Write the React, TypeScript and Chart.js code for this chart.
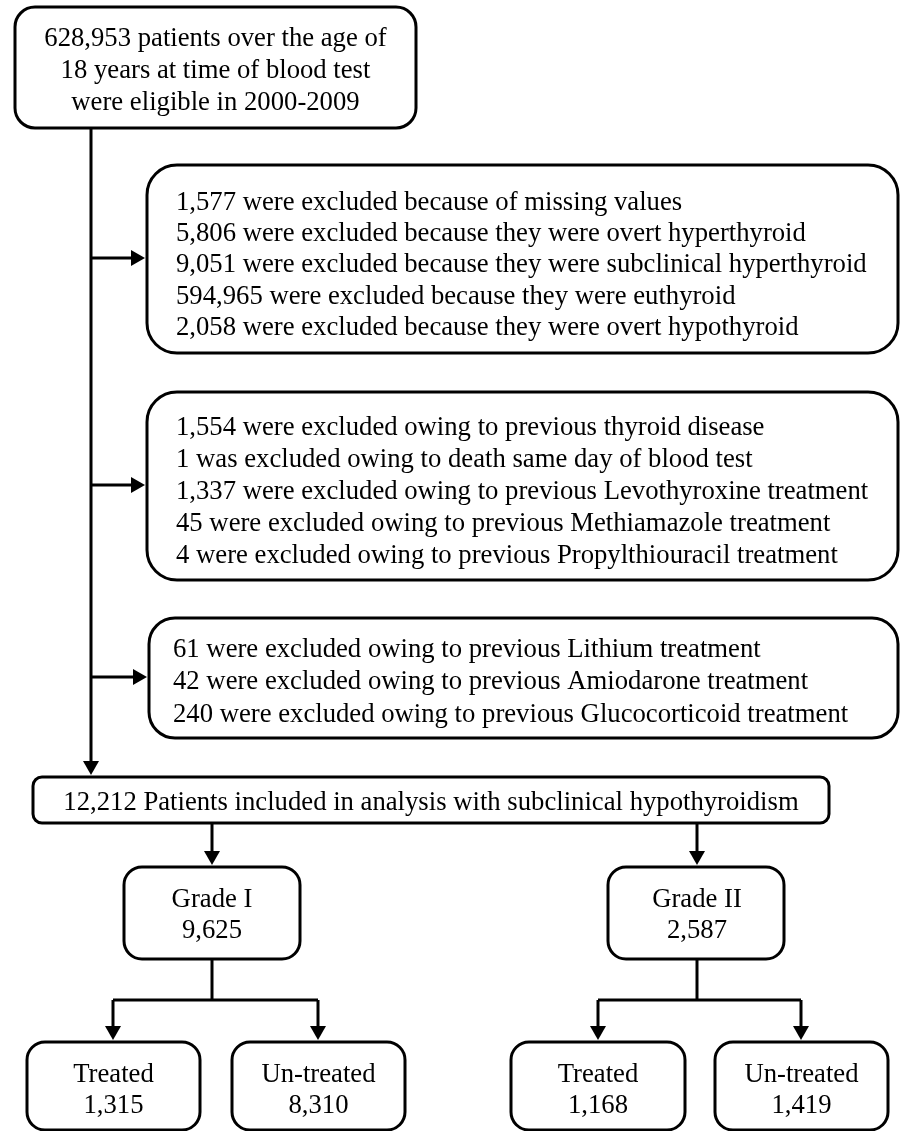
import React, { useEffect, useRef } from "react";
import { Chart, registerables } from "chart.js";

Chart.register(...registerables);

// ---------- DATA ----------
const eligibleLines = [
  "628,953 patients over the age of",
  "18 years at time of blood test",
  "were eligible in 2000-2009",
];
const exclusionLab = [
  "1,577 were excluded because of missing values",
  "5,806 were excluded because they were overt hyperthyroid",
  "9,051 were excluded because they were subclinical hyperthyroid",
  "594,965 were excluded because they were euthyroid",
  "2,058 were excluded because they were overt hypothyroid",
];
const exclusionHistory = [
  "1,554 were excluded owing to previous thyroid disease",
  "1 was excluded owing to death same day of blood test",
  "1,337 were excluded owing to previous Levothyroxine treatment",
  "45 were excluded owing to previous Methiamazole treatment",
  "4 were excluded owing to previous Propylthiouracil treatment",
];
const exclusionDrugs = [
  "61 were excluded owing to previous Lithium treatment",
  "42 were excluded owing to previous Amiodarone treatment",
  "240 were excluded owing to previous Glucocorticoid treatment",
];
const includedText = "12,212 Patients included in analysis with subclinical hypothyroidism";
const gradeLabels = ["Grade I", "Grade II"];
const gradeCounts = ["9,625", "2,587"];
const treatmentLabels = ["Treated", "Un-treated"];
const treatmentCounts = [
  ["1,315", "8,310"],
  ["1,168", "1,419"],
];

// ---------- LAYOUT (positions in scale units) ----------
const W = 900;
const H = 1131;
const FONT = "26.7px 'Liberation Serif', 'Times New Roman', serif";
const LW = 3;
const spineX = 91;
const topBox = { x0: 15, y0: 7, x1: 416, y1: 128, r: 20, baselines: [46, 78, 110] };
const exclBoxes = [
  { x0: 147, y0: 165, x1: 898, y1: 353, r: 30, textX: 176, baselines: [210, 241, 272, 304, 335] },
  { x0: 147, y0: 392, x1: 898, y1: 580, r: 30, textX: 176, baselines: [435, 467, 499, 531, 563] },
  { x0: 149, y0: 618, x1: 898, y1: 738, r: 26, textX: 173, baselines: [657, 689, 722] },
];
const includedBox = { x0: 33, y0: 777, x1: 829, y1: 823, r: 9, baseline: 810 };
const gradeBoxes = [
  { x0: 124, y0: 867, x1: 300, y1: 959, r: 18, cx: 212 },
  { x0: 608, y0: 867, x1: 784, y1: 959, r: 18, cx: 697 },
];
const gradeBaselines = [907, 938];
const treatBoxes = [
  [
    { x0: 27, y0: 1042, x1: 200, y1: 1130, r: 18, cx: 113 },
    { x0: 232, y0: 1042, x1: 405, y1: 1130, r: 18, cx: 318 },
  ],
  [
    { x0: 511, y0: 1042, x1: 685, y1: 1130, r: 18, cx: 598 },
    { x0: 715, y0: 1042, x1: 888, y1: 1130, r: 18, cx: 801 },
  ],
];
const treatBaselines = [1082, 1113];
const branchY = 1000;

const flowPlugin = {
  id: "flowchart",
  afterDraw(chart: any) {
    const ctx: CanvasRenderingContext2D = chart.ctx;
    const sx = chart.scales.x;
    const sy = chart.scales.y;
    const px = (v: number) => sx.getPixelForValue(v);
    const py = (v: number) => sy.getPixelForValue(v);

    ctx.save();
    ctx.strokeStyle = "#000";
    ctx.fillStyle = "#000";
    ctx.lineWidth = LW;
    ctx.lineJoin = "miter";

    const box = (b: any) => {
      ctx.beginPath();
      (ctx as any).roundRect(px(b.x0), py(b.y0), px(b.x1) - px(b.x0), py(b.y1) - py(b.y0), b.r);
      ctx.stroke();
    };
    const line = (pts: number[][]) => {
      ctx.beginPath();
      pts.forEach((p, i) => (i === 0 ? ctx.moveTo(px(p[0]), py(p[1])) : ctx.lineTo(px(p[0]), py(p[1]))));
      ctx.stroke();
    };
    const headDown = (x: number, tipY: number) => {
      ctx.beginPath();
      ctx.moveTo(px(x), py(tipY));
      ctx.lineTo(px(x) - 8, py(tipY) - 14);
      ctx.lineTo(px(x) + 8, py(tipY) - 14);
      ctx.closePath();
      ctx.fill();
    };
    const headRight = (tipX: number, y: number) => {
      ctx.beginPath();
      ctx.moveTo(px(tipX), py(y));
      ctx.lineTo(px(tipX) - 14, py(y) - 8);
      ctx.lineTo(px(tipX) - 14, py(y) + 8);
      ctx.closePath();
      ctx.fill();
    };
    const arrowDown = (x: number, y0: number, y1: number) => {
      line([[x, y0], [x, y1 - 10]]);
      headDown(x, y1);
    };

    // boxes
    box(topBox);
    exclBoxes.forEach(box);
    box(includedBox);
    gradeBoxes.forEach(box);
    treatBoxes.forEach((g) => g.forEach(box));

    // spine and side arrows
    arrowDown(spineX, topBox.y1, includedBox.y0 - 2);
    exclBoxes.forEach((b) => {
      const cy = (b.y0 + b.y1) / 2 - 1;
      line([[spineX, cy], [b.x0 - 10, cy]]);
      headRight(b.x0 - 2, cy);
    });

    // included -> grades
    gradeBoxes.forEach((g) => arrowDown(g.cx, includedBox.y1, g.y0 - 2));

    // grades -> treatment
    gradeBoxes.forEach((g, gi) => {
      const [a, b] = treatBoxes[gi];
      line([[g.cx, g.y1], [g.cx, branchY]]);
      line([[a.cx, branchY], [b.cx, branchY]]);
      arrowDown(a.cx, branchY, a.y0 - 2);
      arrowDown(b.cx, branchY, b.y0 - 2);
    });

    // text
    ctx.font = FONT;
    ctx.textBaseline = "alphabetic";
    ctx.textAlign = "center";
    const topCx = (topBox.x0 + topBox.x1) / 2;
    eligibleLines.forEach((t, i) => ctx.fillText(t, px(topCx), py(topBox.baselines[i])));

    ctx.textAlign = "left";
    const groups = [exclusionLab, exclusionHistory, exclusionDrugs];
    groups.forEach((lines, gi) => {
      const b = exclBoxes[gi];
      lines.forEach((t, i) => ctx.fillText(t, px(b.textX), py(b.baselines[i])));
    });

    ctx.textAlign = "center";
    ctx.fillText(includedText, px((includedBox.x0 + includedBox.x1) / 2), py(includedBox.baseline));
    gradeBoxes.forEach((g, gi) => {
      ctx.fillText(gradeLabels[gi], px(g.cx), py(gradeBaselines[0]));
      ctx.fillText(gradeCounts[gi], px(g.cx), py(gradeBaselines[1]));
    });
    treatBoxes.forEach((grp, gi) =>
      grp.forEach((b, ti) => {
        const cx = (b.x0 + b.x1) / 2;
        ctx.fillText(treatmentLabels[ti], px(cx), py(treatBaselines[0]));
        ctx.fillText(treatmentCounts[gi][ti], px(cx), py(treatBaselines[1]));
      })
    );
    ctx.restore();
  },
};

export default function App() {
  const ref = useRef<HTMLCanvasElement>(null);
  useEffect(() => {
    if (!ref.current) return;
    const chart = new Chart(ref.current, {
      type: "scatter",
      data: { datasets: [{ data: [], pointRadius: 0 }] },
      options: {
        animation: false,
        responsive: false,
        devicePixelRatio: 1,
        layout: { padding: 0 },
        plugins: { legend: { display: false }, tooltip: { enabled: false } },
        scales: {
          x: { type: "linear", min: 0, max: W, display: false },
          y: { type: "linear", min: 0, max: H, reverse: true, display: false },
        },
      },
      plugins: [flowPlugin],
    });
    return () => chart.destroy();
  }, []);
  return (
    <div style={{ position: "absolute", left: 0, top: 0, width: W, height: H, background: "#fff" }}>
      <canvas ref={ref} width={W} height={H} style={{ width: W, height: H, display: "block" }} />
    </div>
  );
}
